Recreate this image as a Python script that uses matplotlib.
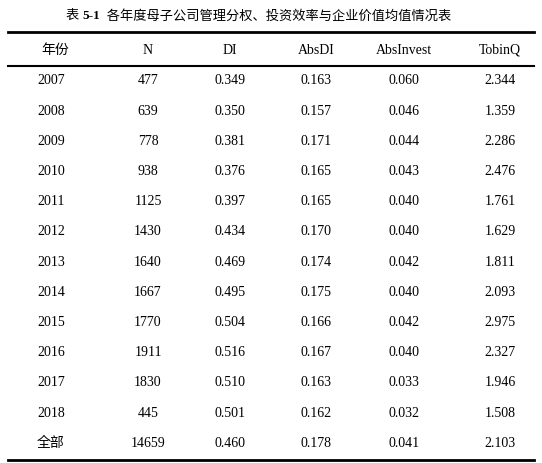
import matplotlib.pyplot as plt

title_prefix = "表 "
title_num = "5-1"
title_rest = "  各年度母子公司管理分权、投资效率与企业价值均值情况表"
headers = ["年份", "N", "DI", "AbsDI", "AbsInvest", "TobinQ"]
years = ["2007", "2008", "2009", "2010", "2011", "2012", "2013", "2014",
         "2015", "2016", "2017", "2018", "全部"]
n_obs = [477, 639, 778, 938, 1125, 1430, 1640, 1667, 1770, 1911, 1830, 445, 14659]
di = [0.349, 0.350, 0.381, 0.376, 0.397, 0.434, 0.469, 0.495, 0.504, 0.516, 0.510, 0.501, 0.460]
absdi = [0.163, 0.157, 0.171, 0.165, 0.165, 0.170, 0.174, 0.175, 0.166, 0.167, 0.163, 0.162, 0.178]
absinv = [0.060, 0.046, 0.044, 0.043, 0.040, 0.040, 0.042, 0.040, 0.042, 0.040, 0.033, 0.032, 0.041]
tobinq = [2.344, 1.359, 2.286, 2.476, 1.761, 1.629, 1.811, 2.093, 2.975, 2.327, 1.946, 1.508, 2.103]

fam = ["Liberation Serif", "Noto Sans CJK SC"]
fs = 10
fig = plt.figure(figsize=(5.42, 4.64), dpi=100)
ax = fig.add_axes([0, 0, 1, 1])
ax.set_xlim(0, 542)
ax.set_ylim(464, 0)
ax.axis("off")

t1 = ax.text(66, 16, title_prefix, ha="left", va="center", fontsize=9.5, family=fam)
t2 = ax.annotate(title_num, xycoords=t1, xy=(1, 0.5), va="center", ha="left",
                 fontsize=9.5, family=fam, fontweight="bold")
ax.annotate(title_rest, xycoords=t2, xy=(1, 0.5), va="center", ha="left",
            fontsize=9.5, family=fam)
ax.plot([8, 534], [33, 33], color="black", lw=2)
ax.plot([8, 534], [67, 67], color="black", lw=1.5)
ax.plot([8, 534], [461, 461], color="black", lw=2)

col_x = [55, 148, 230, 316, 404, 500]
for x, h in zip(col_x, headers):
    ax.text(x, 50, h, ha="center", va="center", fontsize=fs, family=fam)

for i, yr in enumerate(years):
    y = 81 + i * 30.2
    vals = [yr, str(n_obs[i]), f"{di[i]:.3f}", f"{absdi[i]:.3f}",
            f"{absinv[i]:.3f}", f"{tobinq[i]:.3f}"]
    for j, v in enumerate(vals):
        if j == 0:
            ax.text(37, y, v, ha="left", va="center", fontsize=fs, family=fam)
        else:
            ax.text(col_x[j], y, v, ha="center", va="center", fontsize=fs, family=fam)

fig.savefig("out.png", dpi=100)
